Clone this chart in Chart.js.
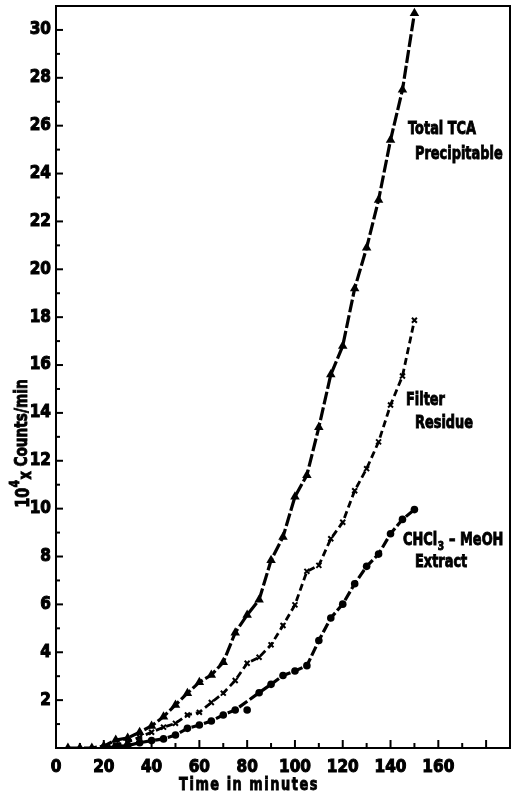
<!DOCTYPE html>
<html>
<head>
<meta charset="utf-8">
<script src="https://cdn.jsdelivr.net/npm/chart.js@4.4.1/dist/chart.umd.min.js"></script>
<style>
html,body{margin:0;padding:0;background:#fff;}
#wrap{width:516px;height:795px;position:relative;}
</style>
</head>
<body>
<div id="wrap"><canvas id="c" width="516" height="795"></canvas></div>
<script>
// Time points (minutes)
const timeTCA = [5,10,15,20,25,30,35,40,45,50,55,60,65,70,75,80,85,90,95,100,105,110,115,120,125,130,135,140,145,150];
const totalTCA = [0,0,0,0.08,0.33,0.42,0.66,0.92,1.31,1.8,2.29,2.75,3.05,3.58,4.82,5.56,6.19,7.84,8.82,10.5,11.4,13.4,15.6,16.8,19.2,20.9,22.9,25.4,27.5,30.7];

const timeFilter = [20,25,30,35,40,45,50,55,60,65,70,75,80,85,90,95,100,105,110,115,120,125,130,135,140,145,150];
const filterResidue = [0.03,0.12,0.25,0.45,0.66,0.87,1.03,1.38,1.49,1.9,2.29,2.82,3.54,3.79,4.31,5.12,5.98,7.38,7.63,8.74,9.43,10.75,11.67,12.79,14.33,15.54,17.87];

const timeCHCl3 = [20,25,30,35,40,45,50,55,60,65,70,75,80,85,90,95,100,105,110,115,120,125,130,135,140,145,150];
const chcl3Extract = [0,0.05,0.1,0.22,0.31,0.38,0.54,0.82,0.96,1.13,1.38,1.59,null,2.31,2.66,3.03,3.22,3.44,4.49,5.43,6.01,6.86,7.59,8.1,8.95,9.55,9.96];
const chcl3OutlierTime = [80];
const chcl3Outlier = [1.59];

const xTickLabels = ['0','20','40','60','80','100','120','140','160'];
const yTickLabels = ['2','4','6','8','10','12','14','16','18','20','22','24','26','28','30'];

const seriesLabels = [['Total TCA','Precipitable'],['Filter','Residue'],['CHCl\u2083 \u2013 MeOH','Extract']];

const FONT = '"DejaVu Sans",sans-serif';
const TICKFONT = '"DejaVu Sans Condensed","DejaVu Sans",sans-serif';
const SQ = 0.76; // horizontal condensing for drawn texts

function pts(xs, ys){ return xs.map((x,i)=>({x:x, y:ys[i]})); }

function condText(ctx, txt, x, y, align){
  ctx.save();
  ctx.translate(x, y);
  ctx.scale(SQ, 1);
  ctx.textAlign = align || 'left';
  ctx.lineWidth = 0.9;
  ctx.strokeStyle = '#000';
  ctx.fillText(txt, 0, 0);
  ctx.strokeText(txt, 0, 0);
  ctx.restore();
  return ctx.measureText(txt).width * SQ;
}

const framePlugin = {
  id:'frame',
  afterDraw(chart){
    const {ctx, chartArea:a, scales:{x, y}} = chart;
    ctx.save();
    ctx.strokeStyle = '#000';
    ctx.lineWidth = 2;
    ctx.strokeRect(a.left, a.top, a.right - a.left, a.bottom - a.top);
    for (let v = 10; v <= 180; v += 10) {
      const px = x.getPixelForValue(v);
      const len = (v % 20 === 0) ? 8 : 5;
      ctx.beginPath(); ctx.moveTo(px, a.bottom); ctx.lineTo(px, a.bottom - len); ctx.stroke();
    }
    for (let v = 1; v <= 30; v += 1) {
      const py = y.getPixelForValue(v);
      const len = (v % 2 === 0) ? 7 : 4;
      ctx.beginPath(); ctx.moveTo(a.left, py); ctx.lineTo(a.left + len, py); ctx.stroke();
    }
    ctx.fillStyle = '#000';
    ctx.textBaseline = 'middle';
    ctx.font = 'bold 17px ' + FONT;
    condText(ctx, seriesLabels[0][0], 408, 130);
    condText(ctx, seriesLabels[0][1], 415, 155);
    condText(ctx, seriesLabels[1][0], 406, 401);
    condText(ctx, seriesLabels[1][1], 415, 424);
    let cx = 403;
    cx += condText(ctx, 'CHCl', cx, 541);
    ctx.font = 'bold 12px ' + FONT;
    cx += condText(ctx, '3', cx + 0.5, 547) + 1;
    ctx.font = 'bold 17px ' + FONT;
    condText(ctx, ' \u2013 MeOH', cx, 541);
    condText(ctx, seriesLabels[2][1], 415, 563);
    ctx.font = 'bold 17px ' + FONT;
    ctx.letterSpacing = '2px';
    condText(ctx, 'Time in minutes', 249, 786, 'center');
    ctx.letterSpacing = '0px';
    // y title rotated
    ctx.translate(22, 444);
    ctx.rotate(-Math.PI/2);
    ctx.font = 'bold 19px ' + FONT;
    const w10 = ctx.measureText('10').width * SQ;
    ctx.font = 'bold 18px ' + FONT;
    const wC = ctx.measureText('Counts/min').width * SQ;
    const totalW = w10 + 9 + 11 + wC;
    let tx = -totalW/2;
    ctx.font = 'bold 19px ' + FONT;
    tx += condText(ctx, '10', tx, 2);
    ctx.font = 'bold 14px ' + FONT;
    condText(ctx, '4', tx, -7);
    tx += 9;
    ctx.font = 'bold 17px ' + FONT;
    condText(ctx, 'x', tx - 1, 5);
    tx += 12;
    ctx.font = 'bold 18px ' + FONT;
    condText(ctx, 'Counts/min', tx, 0);
    ctx.restore();
  }
};

new Chart(document.getElementById('c'), {
  type:'scatter',
  data:{
    datasets:[
      {label:'Total TCA Precipitable', data:pts(timeTCA,totalTCA), showLine:true,
       borderColor:'#000', backgroundColor:'#000', borderWidth:3.2, borderDash:[13,3],
       pointStyle:'triangle', pointRadius:5.5, pointBorderWidth:0},
      {label:'Filter Residue', data:pts(timeFilter,filterResidue), showLine:true,
       borderColor:'#000', backgroundColor:'#000', borderWidth:2.8, borderDash:[7,4],
       pointStyle:'crossRot', pointRadius:3.5, pointBorderWidth:2},
      {label:'CHCl3 - MeOH Extract', data:pts(timeCHCl3,chcl3Extract), showLine:true, spanGaps:true,
       borderColor:'#000', backgroundColor:'#000', borderWidth:3.2, borderDash:[10,3],
       pointStyle:'circle', pointRadius:3.8, pointBorderWidth:0},
      {label:'CHCl3 outlier', data:pts(chcl3OutlierTime,chcl3Outlier), showLine:false,
       borderColor:'#000', backgroundColor:'#000', pointStyle:'circle', pointRadius:3.8, pointBorderWidth:0}
    ]
  },
  options:{
    responsive:false, animation:false,
    layout:{padding:{top:6,right:1,left:0,bottom:0}},
    plugins:{legend:{display:false}, tooltip:{enabled:false}},
    scales:{
      x:{type:'linear', min:0, max:190,
        afterFit(s){ s.height = 47; s.paddingRight = 0; s.paddingLeft = 0; },
        grid:{display:false, drawTicks:false},
        border:{display:true, color:'#000', width:2},
        ticks:{stepSize:10, autoSkip:false, maxRotation:0, padding:9, color:'#000',
          textStrokeColor:'#000', textStrokeWidth:1,
          font:{family:TICKFONT, size:17, weight:'bold'},
          callback:(v)=> (v % 20 === 0 && xTickLabels.includes(String(v))) ? String(v) : ''}
      },
      y:{type:'linear', min:0, max:31,
        afterFit(s){ s.width = 56; s.paddingTop = 0; s.paddingBottom = 0; },
        grid:{display:false, drawTicks:false},
        border:{display:true, color:'#000', width:2},
        ticks:{stepSize:1, autoSkip:false, padding:5, color:'#000',
          textStrokeColor:'#000', textStrokeWidth:1,
          font:{family:TICKFONT, size:17, weight:'bold'},
          callback:(v)=> yTickLabels.includes(String(v)) ? String(v) : ''}
      }
    }
  },
  plugins:[framePlugin]
});
</script>
</body>
</html>
